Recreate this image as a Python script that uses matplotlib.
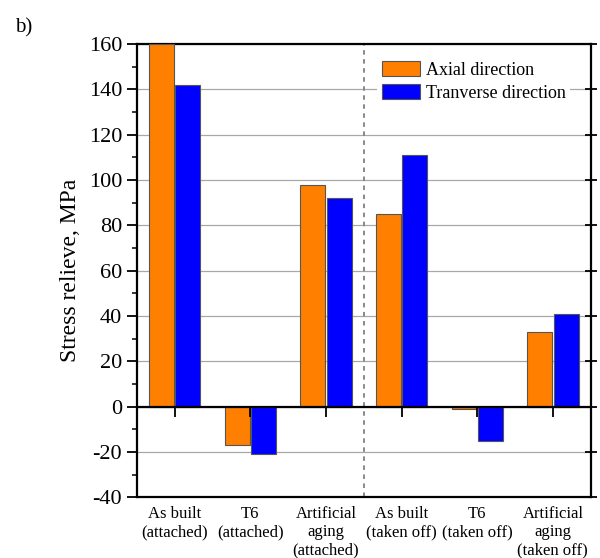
import numpy as np
import matplotlib.pyplot as plt
from matplotlib.ticker import MultipleLocator

plt.rcParams['font.family'] = ['Liberation Serif', 'DejaVu Serif']
plt.rcParams['axes.unicode_minus'] = False

# residual stress relief per condition
groups = ['As built\n(attached)', 'T6\n(attached)', 'Artificial\naging\n(attached)',
          'As built\n(taken off)', 'T6\n(taken off)', 'Artificial\naging\n(taken off)']
axial = [160, -17, 98, 85, -1, 33]
transverse = [142, -21, 92, 111, -15, 41]

x = np.arange(len(groups))
w = 0.33

fig = plt.figure(figsize=(6, 5.58), dpi=100)
ax = fig.add_axes([0.228, 0.109, 0.7565, 0.812])

ax.bar(x - 0.175, axial, w, color='#FF8000', edgecolor='#555555', linewidth=0.8,
       label='Axial direction', zorder=3)
ax.bar(x + 0.175, transverse, w, color='#0000FF', edgecolor='#555555', linewidth=0.8,
       label='Tranverse direction', zorder=3)

ax.set_xlim(-0.5, 5.5)
ax.set_ylim(-40, 160)
ax.yaxis.set_major_locator(MultipleLocator(20))
ax.yaxis.set_minor_locator(MultipleLocator(10))
ax.yaxis.grid(True, which='major', color='#a8a8a8', linewidth=0.9)
ax.set_axisbelow(True)

# zero line with its own tick marks
ax.axhline(0, color='black', linewidth=1.6, zorder=4)
ax.plot(x, np.zeros(len(x)), linestyle='none', marker=3, markersize=7,
        markeredgewidth=1.3, color='black', zorder=4)

# divider between attached / taken off
ax.axvline(2.5, color='#808080', linewidth=1.3, linestyle=(0, (2.5, 2.5)), zorder=2)

ax.set_xticks(x)
ax.set_xticklabels(groups, fontsize=12, linespacing=1.2)
ax.tick_params(axis='x', length=0, pad=6)
ax.tick_params(axis='y', which='major', direction='out', length=7, width=1.3,
               labelsize=16, right=True)
ax.tick_params(axis='y', which='minor', direction='out', length=3.5, width=1.1)
for t in ax.yaxis.get_major_ticks():
    t.tick2line.set_marker('_')
    t.tick2line.set_markersize(9)
for s in ax.spines.values():
    s.set_linewidth(1.6)

ax.set_ylabel('Stress relieve, MPa', fontsize=17, labelpad=6)

leg = ax.legend(loc='upper left', bbox_to_anchor=(0.51, 0.992), fontsize=13,
                handlelength=2.1, handleheight=0.9, handletextpad=0.35,
                labelspacing=0.3, borderpad=0.25, fancybox=False)
leg.get_frame().set_edgecolor('none')
leg.get_frame().set_facecolor('white')
leg.get_frame().set_alpha(1)
leg.set_zorder(5)

fig.text(0.025, 0.95, 'b)', fontsize=15, va='center')

fig.savefig('out.png', dpi=100)
